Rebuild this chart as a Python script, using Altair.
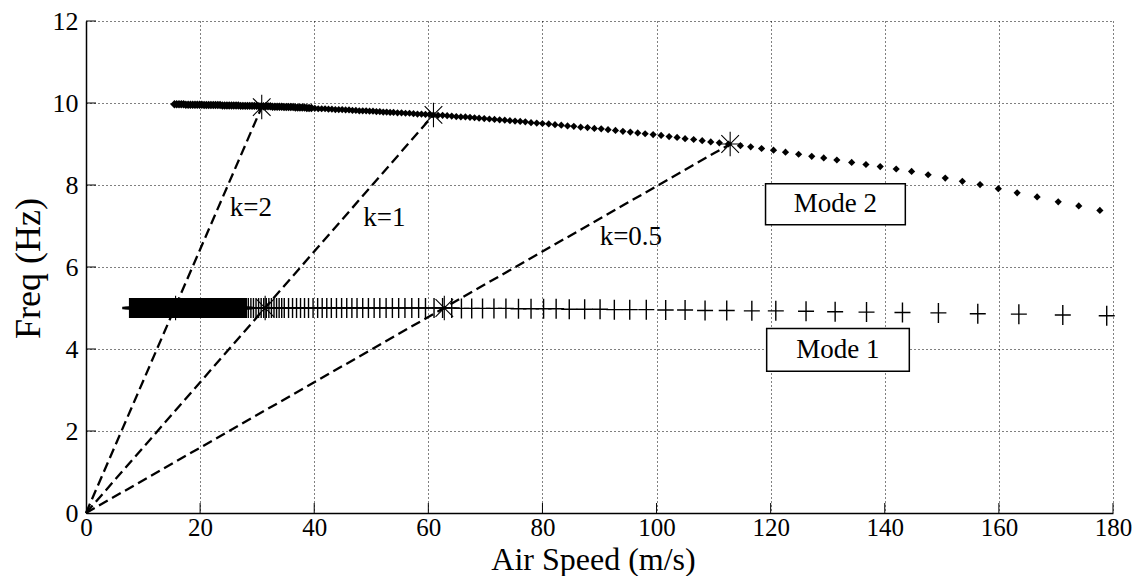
import altair as alt
import pandas as pd

# ---------------- data ----------------
x_ticks = [0, 20, 40, 60, 80, 100, 120, 140, 160, 180]
y_ticks = [0, 2, 4, 6, 8, 10, 12]

# Mode 1 ("+" markers)
mode1_speed = [
    7.75, 8.0, 8.25, 8.5, 8.75, 9.0, 9.25, 9.5, 9.75, 10.0,
    10.25, 10.5, 10.75, 11.0, 11.25, 11.5, 11.75, 12.0, 12.25, 12.5,
    12.75, 13.0, 13.25, 13.5, 13.75, 14.0, 14.25, 14.5, 14.75, 15.0,
    15.25, 15.5, 15.75, 16.0, 16.25, 16.5, 16.75, 17.0, 17.25, 17.5,
    17.75, 18.0, 18.25, 18.5, 18.75, 19.0, 19.25, 19.5, 19.75, 20.0,
    20.25, 20.5, 20.75, 21.0, 21.25, 21.5, 21.75, 22.0, 22.25, 22.5,
    22.75, 23.0, 23.25, 23.5, 23.75, 24.0, 24.25, 24.5, 24.75, 25.0,
    25.25, 25.5, 25.75, 26.0, 26.25, 26.5, 26.75, 27.0, 27.25, 27.5,
    27.75, 28.0,
    28.45, 28.9, 29.35, 29.8, 30.25, 30.7, 31.15, 31.6, 32.05, 32.5,
    32.95, 33.4, 33.85, 34.3, 34.75,
    35.5, 36.2, 36.9, 37.6, 38.3, 39.0, 39.8, 40.6, 41.4, 42.2,
    43.0, 43.9, 44.8, 45.7, 46.6, 47.5, 48.5, 49.5, 50.5, 51.5,
    52.6, 53.7, 54.8, 55.9, 57.1, 58.3, 59.5,
    61.0, 62.5, 64.1, 65.8, 67.6, 69.5, 71.5, 73.6, 75.8, 78.0,
    80.2, 82.4, 84.7, 87.4, 90.1, 92.6, 95.3, 98.2, 101.6, 105.0,
    108.5, 112.3, 116.7, 120.9, 126.2, 131.3, 136.8, 143.1, 149.4, 156.3,
    163.5, 171.2, 178.9,
]
mode1_freq = [
    5.0, 5.0, 5.0, 5.0, 5.0, 5.0, 5.0, 5.0, 5.0, 5.0,
    5.0, 5.0, 5.0, 5.0, 5.0, 5.0, 5.0, 5.0, 5.0, 5.0,
    5.0, 5.0, 5.0, 5.0, 5.0, 5.0, 5.0, 5.0, 5.0, 5.0,
    5.0, 5.0, 5.0, 5.0, 5.0, 5.0, 5.0, 5.0, 5.0, 5.0,
    5.0, 5.0, 5.0, 5.0, 5.0, 5.0, 5.0, 5.0, 5.0, 5.0,
    5.0, 5.0, 5.0, 5.0, 5.0, 5.0, 5.0, 5.0, 5.0, 5.0,
    5.0, 5.0, 5.0, 5.0, 5.0, 5.0, 5.0, 5.0, 5.0, 5.0,
    5.0, 5.0, 5.0, 5.0, 5.0, 5.0, 5.0, 5.0, 5.0, 5.0,
    5.0, 5.0,
    5.0, 5.0, 5.0, 5.0, 5.0, 5.0, 5.0, 5.0, 5.0, 5.0,
    5.0, 5.0, 5.0, 5.0, 5.0,
    5.0, 5.0, 5.0, 5.0, 5.0, 5.0, 5.0, 5.0, 5.0, 5.0,
    5.0, 5.0, 5.0, 5.0, 5.0, 5.0, 5.0, 5.0, 5.0, 5.0,
    5.0, 5.0, 5.0, 5.0, 5.0, 5.0, 5.0,
    5.00, 5.00, 5.00, 4.99, 4.99, 4.99, 4.99, 4.99, 4.98, 4.98,
    4.98, 4.98, 4.97, 4.97, 4.97, 4.96, 4.96, 4.96, 4.95, 4.95,
    4.94, 4.94, 4.93, 4.93, 4.92, 4.91, 4.90, 4.89, 4.88, 4.86,
    4.85, 4.83, 4.81,
]

# Mode 2 (small diamond dots)
mode2_speed = [
    15.5, 15.9, 16.3, 16.7, 17.1,
    17.5, 17.9, 18.3, 18.7, 19.1, 19.5, 19.9, 20.3,
    20.7, 21.1, 21.5, 21.9, 22.3, 22.7, 23.1, 23.5,
    23.9, 24.3, 24.7, 25.1, 25.5, 25.9, 26.3, 26.7,
    27.1, 27.5, 27.9, 28.3, 28.7, 29.1, 29.5, 29.9,
    30.3, 30.7, 31.1, 31.5, 31.9, 32.3,
    32.7, 33.1, 33.5, 33.9, 34.3,
    34.7, 35.1, 35.5, 35.9, 36.3,
    36.7, 37.1, 37.5, 37.9, 38.3,
    38.7, 39.1, 39.5,
    40.1, 40.7, 41.3, 41.9, 42.5, 43.1, 43.7, 44.3, 44.9, 45.5,
    46.1, 46.7, 47.3, 47.9, 48.5, 49.1, 49.7, 50.3, 50.9, 51.5,
    52.1, 52.7, 53.3, 53.9, 54.6, 55.3, 56.0, 56.7, 57.4, 58.1,
    58.8, 59.5, 60.2, 60.9, 61.7, 62.5, 63.3, 64.1, 64.9, 65.7,
    66.5, 67.3, 68.1, 68.9, 69.8, 70.7, 71.6, 72.5, 73.4, 74.3,
    75.2, 76.1, 77.0, 78.0, 79.0, 80.0, 81.1, 82.2, 83.3, 84.4,
    85.5, 86.7, 87.9, 89.1, 90.3, 91.5, 92.8, 94.1, 95.4, 96.7,
    98.0, 99.4, 100.8, 102.2, 103.6, 105.0, 106.5, 108.0, 109.5, 111.0,
    112.6, 114.7, 116.5, 118.4, 120.5, 122.6, 124.9, 127.2, 129.3, 131.6,
    134.2, 136.7, 139.2, 142.0, 144.7, 147.6, 150.6, 153.6, 156.7, 159.9,
    163.2, 166.7, 170.4, 174.0, 177.7,
]
mode2_freq = [
    9.97, 9.97, 9.97, 9.97, 9.97,
    9.96, 9.96, 9.96, 9.96, 9.96, 9.96, 9.96, 9.96,
    9.95, 9.95, 9.95, 9.95, 9.95, 9.95, 9.95, 9.95,
    9.94, 9.94, 9.94, 9.94, 9.94, 9.94, 9.94, 9.94,
    9.93, 9.93, 9.93, 9.93, 9.93, 9.93, 9.93, 9.93,
    9.92, 9.92, 9.92, 9.92, 9.92, 9.92,
    9.91, 9.91, 9.91, 9.91, 9.91,
    9.90, 9.90, 9.90, 9.90, 9.90,
    9.89, 9.89, 9.89, 9.89, 9.89,
    9.88, 9.88, 9.88,
    9.87, 9.86, 9.86, 9.86, 9.85, 9.85, 9.84, 9.84, 9.84, 9.83,
    9.83, 9.82, 9.82, 9.81, 9.81, 9.81, 9.80, 9.80, 9.79, 9.79,
    9.78, 9.78, 9.77, 9.77, 9.76, 9.76, 9.75, 9.75, 9.74, 9.73,
    9.73, 9.72, 9.72, 9.71, 9.70, 9.70, 9.69, 9.68, 9.67, 9.66,
    9.66, 9.65, 9.64, 9.63, 9.62, 9.61, 9.60, 9.59, 9.58, 9.57,
    9.56, 9.55, 9.54, 9.52, 9.51, 9.50, 9.49, 9.47, 9.46, 9.44,
    9.43, 9.41, 9.40, 9.38, 9.37, 9.35, 9.33, 9.31, 9.29, 9.27,
    9.25, 9.23, 9.21, 9.18, 9.16, 9.13, 9.11, 9.08, 9.05, 9.03,
    9.00, 8.96, 8.93, 8.89, 8.85, 8.80, 8.75, 8.70, 8.66, 8.61,
    8.55, 8.50, 8.45, 8.39, 8.33, 8.25, 8.17, 8.09, 8.01, 7.91,
    7.81, 7.71, 7.59, 7.49, 7.38,
]

# asterisk markers (k = 2, 1, 0.5 on both modes)
star_speed = [15.7, 31.4, 62.8, 30.8, 60.9, 112.9]
star_freq = [5.0, 5.0, 5.0, 9.9, 9.71, 9.0]

# dashed rays from the origin
ray_k = ["k=2", "k=1", "k=0.5"]
ray_end_speed = [30.8, 60.9, 112.9]
ray_end_freq = [9.9, 9.71, 9.0]

# ray labels
label_text = ["k=2", "k=1", "k=0.5"]
label_speed = [28.9, 52.3, 95.5]
label_freq = [7.45, 7.2, 6.72]

# boxed mode labels
box_text = ["Mode 2", "Mode 1"]
box_speed_lo = [119.1, 119.3]
box_speed_hi = [143.6, 144.3]
box_freq_lo = [7.03, 3.46]
box_freq_hi = [8.03, 4.50]

# ---------------- tables ----------------
m1 = pd.DataFrame(list(zip(mode1_speed, mode1_freq)), columns=["speed", "freq"])
m2 = pd.DataFrame(list(zip(mode2_speed, mode2_freq)), columns=["speed", "freq"])
stars = pd.DataFrame({"speed": star_speed, "freq": star_freq})
ray_rows = []
for k, s, f in zip(ray_k, ray_end_speed, ray_end_freq):
    ray_rows.append({"k": k, "speed": 0.0, "freq": 0.0, "ord": 0})
    ray_rows.append({"k": k, "speed": s, "freq": f, "ord": 1})
rays_df = pd.DataFrame(ray_rows)
labels_df = pd.DataFrame({"label": label_text, "speed": label_speed, "freq": label_freq})
boxes_df = pd.DataFrame({
    "label": box_text,
    "speed": box_speed_lo, "speed2": box_speed_hi,
    "freq": box_freq_lo, "freq2": box_freq_hi,
})
boxes_df["cx"] = (boxes_df["speed"] + boxes_df["speed2"]) / 2
boxes_df["cy"] = (boxes_df["freq"] + boxes_df["freq2"]) / 2
xt_df = pd.DataFrame({"speed": x_ticks[1:]})
yt_df = pd.DataFrame({"freq": y_ticks[1:]})

# ---------------- chart ----------------
FONT = "Liberation Serif"
W, H = 1027, 492

xscale = alt.Scale(domain=[0, 180], nice=False, zero=False)
yscale = alt.Scale(domain=[0, 12], nice=False, zero=False)
xaxis = alt.Axis(values=x_ticks, title="Air Speed (m/s)", labelFlush=False, ticks=False,
                 grid=True, labelPadding=2,
                 labelFont=FONT, titleFont=FONT, labelFontSize=25, titleFontSize=32,
                 titleX=507, titleY=56, titleBaseline="alphabetic", titleAlign="center")
yaxis = alt.Axis(values=y_ticks, title="Freq (Hz)", labelFlush=False, ticks=False,
                 grid=True, labelPadding=8,
                 labelFont=FONT, titleFont=FONT, labelFontSize=26, titleFontSize=36,
                 titleX=-47, titleY=247, titleAngle=-90, titleBaseline="alphabetic",
                 titleAlign="center")


def X(f="speed"):
    return alt.X(f"{f}:Q", scale=xscale, axis=xaxis)


def Y(f="freq"):
    return alt.Y(f"{f}:Q", scale=yscale, axis=yaxis)


PLUS = "M-0.8,0L0.8,0M0,-1L0,1"
STAR = "M-1,0L1,0M0,-1L0,1M-0.72,-0.72L0.72,0.72M-0.72,0.72L0.72,-0.72"

xticks_layer = alt.Chart(xt_df).mark_rule(color="black", strokeWidth=1).encode(
    x=X(), y=alt.value(H), y2=alt.value(H - 10))
yticks_layer = alt.Chart(yt_df).mark_rule(color="black", strokeWidth=1).encode(
    y=Y(), x=alt.value(0), x2=alt.value(10))

rays = alt.Chart(rays_df).mark_line(color="black", strokeDash=[10, 5], strokeWidth=2.3).encode(
    x=X(), y=Y(), detail="k:N", order="ord:Q")

mode2 = alt.Chart(m2).mark_point(shape="diamond", filled=True, color="black",
                                 opacity=1, strokeWidth=0).encode(
    x=X(), y=Y(),
    size=alt.condition("datum.speed < 40", alt.value(72), alt.value(52)))
mode1 = alt.Chart(m1).mark_point(shape=PLUS, filled=False, size=400, color="black",
                                 opacity=1).encode(
    x=X(), y=Y(),
    strokeWidth=alt.condition("datum.speed <= 28.1", alt.value(2.6), alt.value(1.4)))
star_layer = alt.Chart(stars).mark_point(shape=STAR, filled=False, size=600, color="black",
                                         strokeWidth=1.1, opacity=1).encode(x=X(), y=Y())

boxes = alt.Chart(boxes_df).mark_rect(fill="white", stroke="black", strokeWidth=1.5).encode(
    x=X(), x2=alt.X2("speed2:Q"), y=Y(), y2=alt.Y2("freq2:Q"))
box_text_layer = alt.Chart(boxes_df).mark_text(font=FONT, fontSize=27, color="black",
                                               align="center", baseline="middle").encode(
    x=X("cx"), y=Y("cy"), text="label:N")
ray_labels = alt.Chart(labels_df).mark_text(font=FONT, fontSize=27, color="black",
                                            align="center", baseline="middle").encode(
    x=X(), y=Y(), text="label:N")

chart = alt.layer(
    rays, mode2, mode1, star_layer, boxes, box_text_layer, ray_labels,
    xticks_layer, yticks_layer,
).properties(
    width=W, height=H,
    padding={"left": 78, "top": 13, "right": 20, "bottom": 63},
    autosize=alt.AutoSizeParams(type="none"),
    background="white",
).configure_axis(
    labelFont=FONT, titleFont=FONT,
    titleFontWeight="normal", labelColor="black", titleColor="black",
    domainColor="black", domainWidth=1.5,
    gridColor="black", gridDash=[1, 3], gridWidth=1, gridOpacity=1,
).configure_view(stroke=None)

chart.save("out.html", embed_options={"renderer": "svg", "actions": False})
